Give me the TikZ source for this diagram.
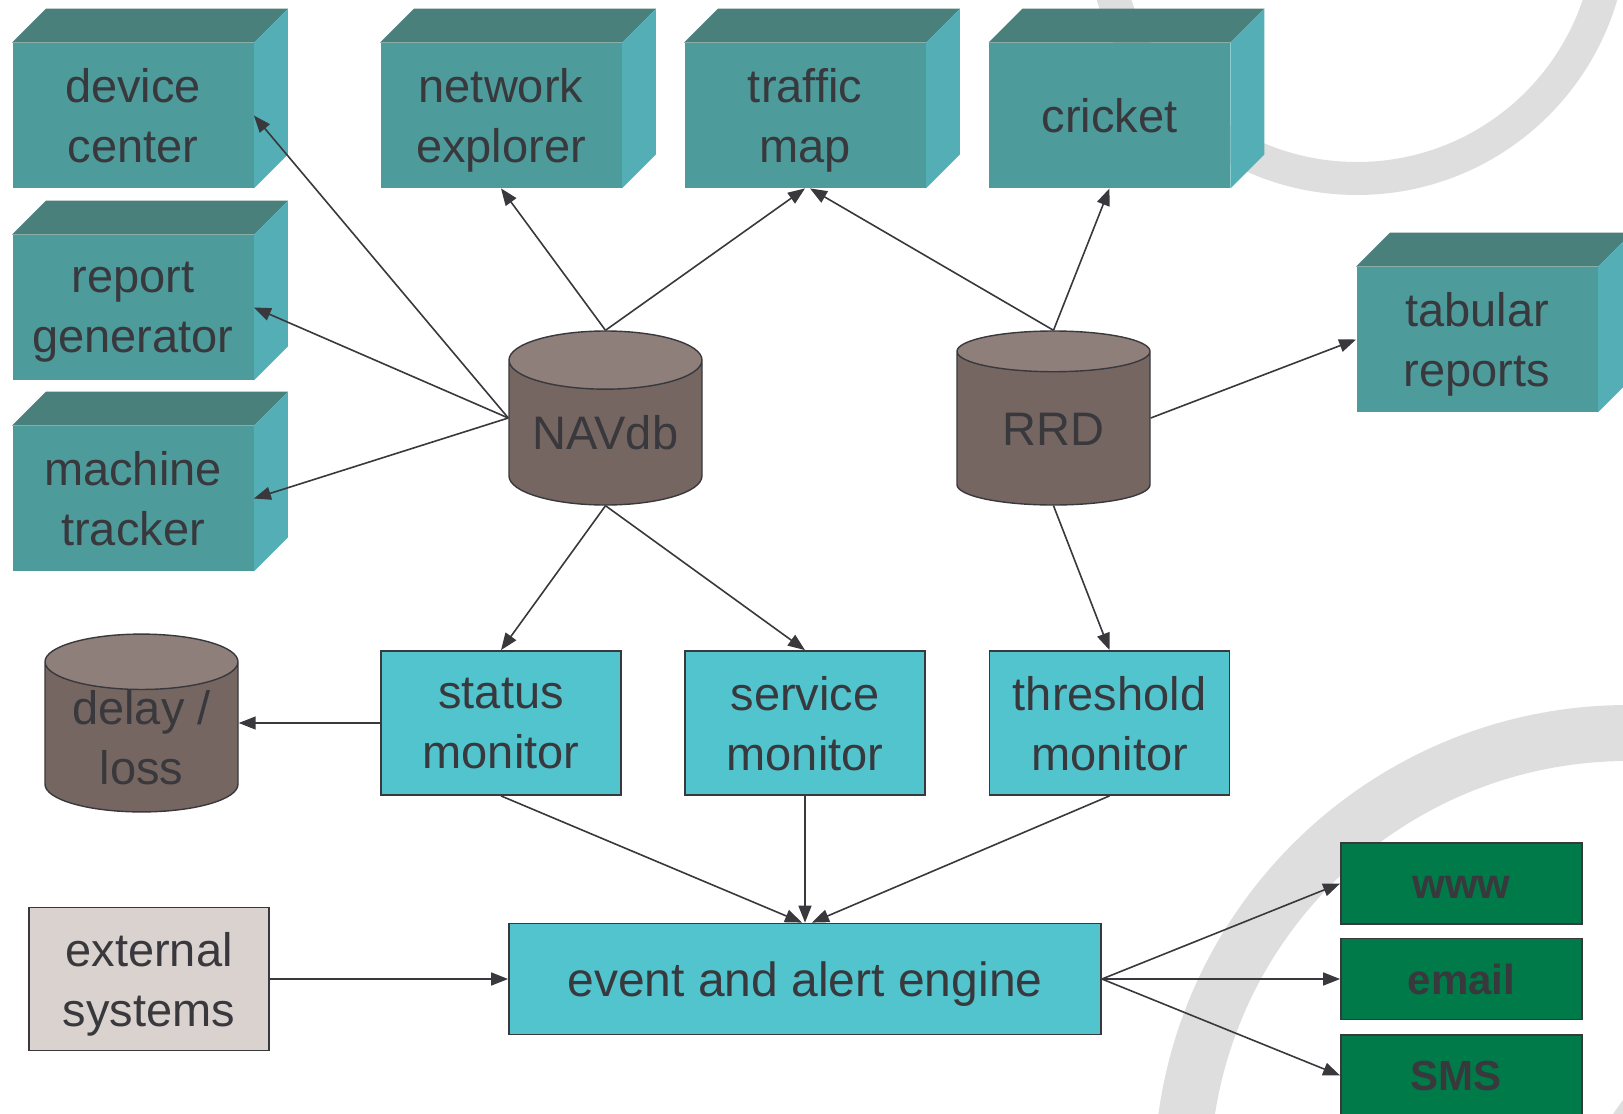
\documentclass[tikz,border=0pt]{standalone}
\usepackage{fontspec}
\setmainfont{Liberation Sans}
\definecolor{cubeFront}{HTML}{4D9B9B}
\definecolor{cubeTop}{HTML}{4A807B}
\definecolor{cubeSide}{HTML}{53AEB5}
\definecolor{monCyan}{HTML}{52C4CE}
\definecolor{dbBody}{HTML}{766661}
\definecolor{dbTop}{HTML}{8E7F7A}
\definecolor{extGrey}{HTML}{D9D2CF}
\definecolor{outGreen}{HTML}{007A48}
\definecolor{inkDark}{HTML}{38383D}
\definecolor{ringGrey}{HTML}{DEDEDE}
\usetikzlibrary{shapes.geometric, arrows.meta}

\begin{document}
\begin{tikzpicture}[x=0.5pt, y=-0.5pt,
		txt/.style={text=inkDark, align=center, inner sep=0pt, font=\fontsize{23.5}{30}\selectfont,
			execute at begin node={\vphantom{d}}, text depth=0pt},
		viewbox/.style={txt, rectangle, fill=cubeFront, minimum width=120.5pt, minimum height=72.5pt},
		monbox/.style={txt, rectangle, draw=inkDark, line width=0.9pt, fill=monCyan, minimum width=120pt, minimum height=72pt},
		dbase/.style={txt, cylinder, shape border rotate=90, aspect=0.4, draw=inkDark, line width=0.7pt,
			cylinder uses custom fill, cylinder body fill=dbBody, cylinder end fill=dbTop,
			minimum width=96.5pt, minimum height=87pt, anchor=shape center},
		sinkbox/.style={txt, rectangle, draw=inkDark, line width=0.9pt, fill=outGreen, minimum width=120.5pt, minimum height=40.5pt, font=\bfseries\fontsize{21}{25}\selectfont},
		arr/.style={-{Triangle[length=8.5pt,width=6.5pt]}, draw=inkDark, line width=0.8pt}
	]
		\useasboundingbox (0,0) rectangle (1623,1114);
		\clip (0,0) rectangle (1623,1114);
		% background rings
		\draw[ringGrey, line width=16.5pt] (1357,-76) circle[radius=254.5];
		\draw[ringGrey, line width=28pt] (1628,1179) circle[radius=446];
		\fill[ringGrey] (1613,1114) -- (1623,1100) -- (1623,1114) -- cycle;

		\foreach \x/\y/\nm/\name in {
			133/115.5/dev/device\\center,
			133/307.5/rep/report\\generator,
			133/498.5/mac/machine\\tracker,
			501/115.5/net/network\\explorer,
			805/115.5/traf/traffic\\map,
			1109.5/115.5/cri/cricket,
			1477/339.5/tab/tabular\\reports
		}{
			\node[viewbox] (\nm) at (\x,\y) {\name};
			\fill[cubeTop] (\nm.north west) -- ++(17pt,17pt) -- ([xshift=17pt,yshift=17pt]\nm.north east) -- (\nm.north east) -- cycle;
			\fill[cubeSide] (\nm.north east) -- ++(17pt,17pt) -- ([xshift=17pt,yshift=17pt]\nm.south east) -- (\nm.south east) -- cycle;
		}
		\node[dbase] (navdb) at (605.5,418) {NAVdb};
		\node[dbase] (rrd) at (1053.5,418) {RRD};
		\node[dbase] (delay) at (141.5,723) {delay /\\loss};
		\foreach \x/\nm/\name in {
			501/stat/status\\monitor,
			805/serv/service\\monitor,
			1109.5/thr/threshold\\monitor
		}{
			\node[monbox] (\nm) at (\x,723) {\name};
		}
		\node[monbox, minimum width=296pt, minimum height=55.5pt, font=\fontsize{24}{30}\selectfont] (event) at (805,979) {event and alert engine};
		\node[monbox, fill=extGrey, minimum height=71.5pt] (ext) at (149,979) {external\\systems};
		\foreach \y/\nm/\name in {
			883.5/www/www,
			979/email/email,
			1075.5/sms/SMS
		}{
			\node[sinkbox] (\nm) at (1461.5,\y) {\name};
		}

		\foreach \b in {dev, rep, mac}
		{\draw[arr] (navdb.shape center -| navdb.west) -- (\b.east);}
		\draw[arr] (navdb.north) -- (net.south);
		\draw[arr] (navdb.north) -- (traf.south);
		\draw[arr] (rrd.north) -- ([xshift=2.5pt]traf.south);
		\draw[arr] (rrd.north) -- (cri.south);
		\draw[arr] (rrd.shape center -| rrd.east) -- (tab.west);
		\draw[arr] (navdb.south) -- (stat.north);
		\draw[arr] (navdb.south) -- (serv.north);
		\draw[arr] (rrd.south) -- (thr.north);
		\draw[arr] (stat.west) -- (delay.shape center -| delay.east);
		\draw[arr] (stat.south) -- ([xshift=-1.5pt]event.north);
		\draw[arr] (serv.south) -- (event.north);
		\draw[arr] (thr.south) -- ([xshift=3.5pt]event.north);
		\draw[arr] (ext.east) -- (event.west);
		\foreach \s in {www, email, sms}
		{\draw[arr] (event.east) -- (\s.west);}
	\end{tikzpicture}
\end{document}
